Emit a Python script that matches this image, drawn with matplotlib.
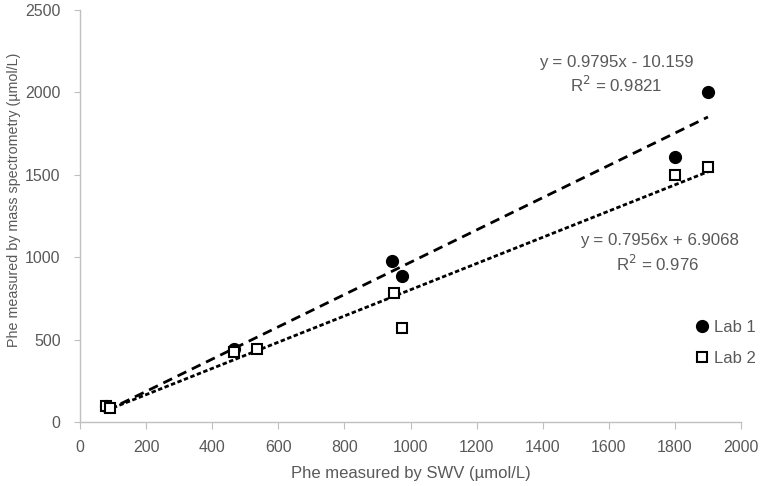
import matplotlib
matplotlib.use("Agg")
import matplotlib.pyplot as plt
import numpy as np

plt.rcParams['font.family'] = ['Liberation Sans', 'DejaVu Sans']

# Data
lab1_x = [80, 465, 945, 975, 1800, 1900]
lab1_y = [95, 445, 975, 885, 1605, 2005]
lab2_x = [80, 90, 465, 535, 950, 975, 1800, 1900]
lab2_y = [100, 85, 425, 440, 780, 570, 1500, 1545]

lab1_fit = (0.9795, -10.159)
lab2_fit = (0.7956, 6.9068)
lab1_eq = ["y = 0.9795x - 10.159", "R$^2$ = 0.9821"]
lab2_eq = ["y = 0.7956x + 6.9068", "R$^2$ = 0.976"]

xticks = [0, 200, 400, 600, 800, 1000, 1200, 1400, 1600, 1800, 2000]
yticks = [0, 500, 1000, 1500, 2000, 2500]

txt = "#595959"
spine = "#BFBFBF"

fig = plt.figure(figsize=(7.62, 4.86), dpi=100)
ax = fig.add_axes([80/762, 1 - 422/486, (741-80)/762, (422-10)/486])

# trendlines
for xs, (m, b), ls in [(lab1_x, lab1_fit, (0, (3.5, 2.2))), (lab2_x, lab2_fit, (0, (1.6, 0.9)))]:
    xx = np.array([min(xs), max(xs)])
    ax.plot(xx, m*xx + b, color="black", lw=2.0, linestyle=ls, zorder=2)

ax.plot(lab1_x, lab1_y, 'o', color='black', ms=8.5, label="Lab 1", zorder=3)
ax.plot(lab2_x, lab2_y, 's', mfc='white', mec='black', mew=1.5, ms=7.5, label="Lab 2", zorder=3)

ax.set_xlim(0, 2000)
ax.set_ylim(0, 2500)
ax.set_xticks(xticks)
ax.set_yticks(yticks)
ax.tick_params(axis='x', colors=spine, labelcolor=txt, labelsize=11.5, length=5, direction='out', pad=8)
ax.tick_params(axis='y', colors=spine, labelcolor=txt, labelsize=11.5, length=4, direction='out', pad=10)
for s in ['top', 'right']:
    ax.spines[s].set_visible(False)
for s in ['left', 'bottom']:
    ax.spines[s].set_color(spine)
    ax.spines[s].set_linewidth(1.0)

ax.set_xlabel("Phe measured by SWV (µmol/L)", color=txt, fontsize=12, labelpad=8)
ax.set_ylabel("Phe measured by mass spectrometry (µmol/L)", color=txt, fontsize=10.3,
              va='center', ha='center')
ax.yaxis.set_label_coords(-66/661, (422-200)/412)

fig.text(616/762, 1 - 62/486, lab1_eq[0], ha='center', va='center', color=txt, fontsize=12.2)
fig.text(616/762, 1 - 85/486, lab1_eq[1], ha='center', va='center', color=txt, fontsize=12.2)
fig.text(659/762, 1 - 240/486, lab2_eq[0], ha='center', va='center', color=txt, fontsize=12.2)
fig.text(658/762, 1 - 264/486, lab2_eq[1], ha='center', va='center', color=txt, fontsize=12.2)

leg = fig.legend(loc='center left', bbox_to_anchor=(689/762, 1 - 343/486), frameon=False,
                 fontsize=12, handlelength=0.6, handletextpad=0.4, labelspacing=0.95, borderpad=0)
for t in leg.get_texts():
    t.set_color(txt)

fig.savefig("out.png", dpi=100)
